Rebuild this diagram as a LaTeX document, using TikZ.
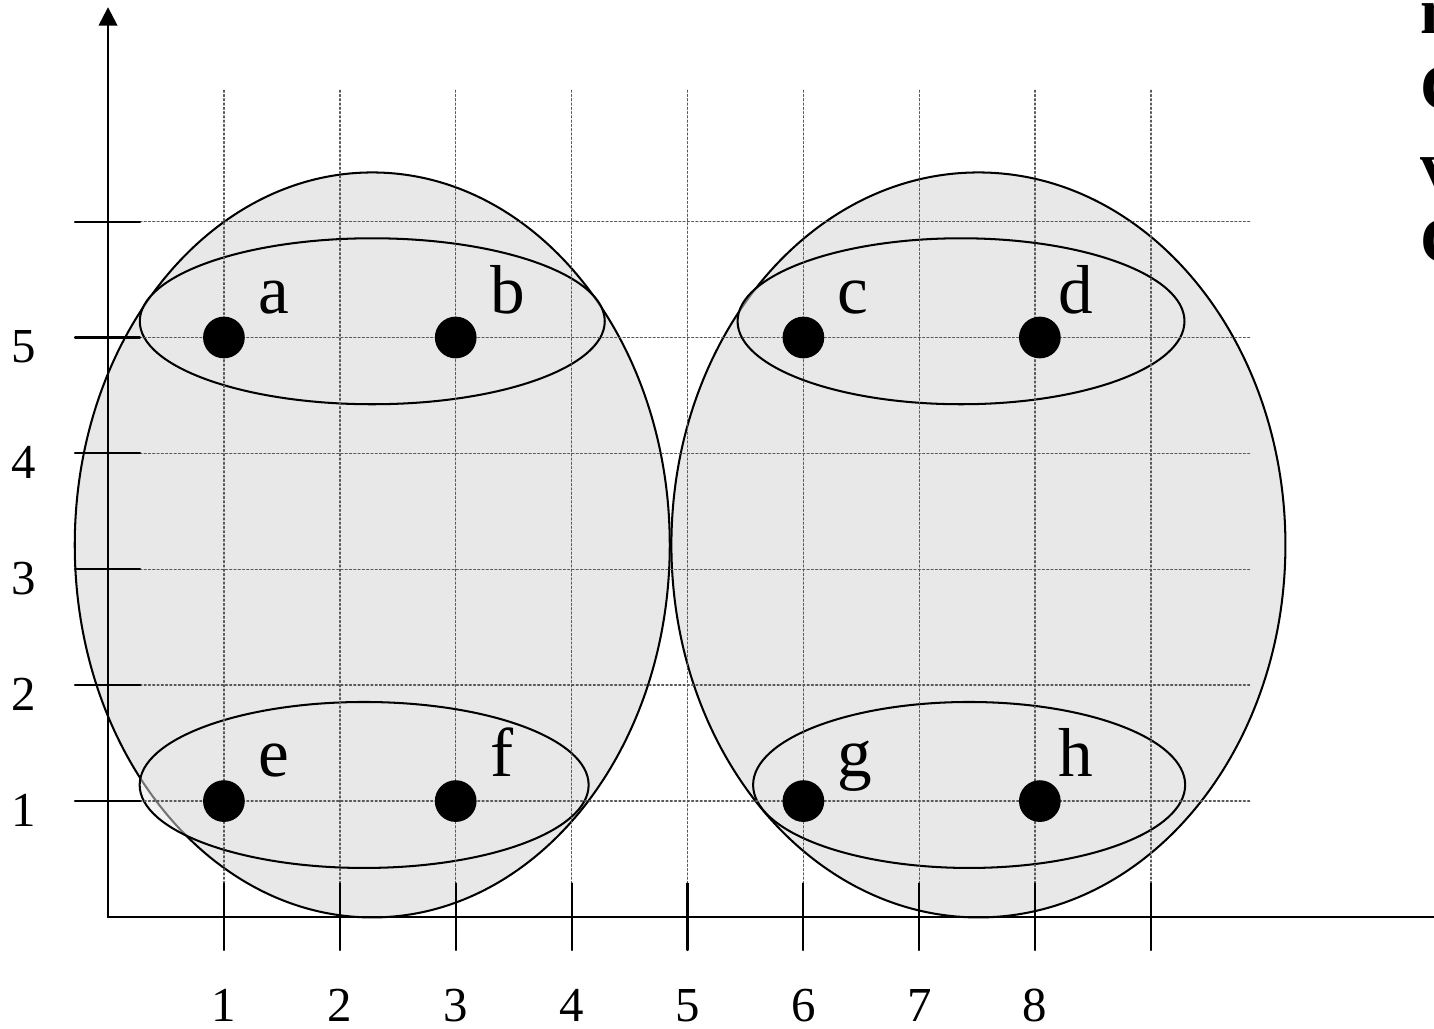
\documentclass[tikz,border=0pt]{standalone}
\usepackage{fontspec}
\setmainfont{Liberation Serif}
\usetikzlibrary{arrows.meta}
\definecolor{setgray}{HTML}{E8E8E8}

\begin{document}
\begin{tikzpicture}[line cap=round,line join=round,
    pt/.style={circle,fill=black,inner sep=0pt,minimum size=0.36cm},
    lbl/.style={anchor=base west,inner sep=0pt,font=\fontsize{17}{20}\selectfont},
    num/.style={anchor=base,inner sep=0pt,font=\fontsize{12}{14}\selectfont},
    side/.style={anchor=base west,inner sep=0pt,font=\fontsize{16}{19}\selectfont\bfseries},
    gridline/.style={line width=0.35pt,black!65,dash pattern=on 0.45pt off 0.6pt},
    axis/.style={line width=0.6pt,-{Triangle[length=4.5pt,width=4.5pt]}}]
  \useasboundingbox (-0.932,-0.966) rectangle (11.441,7.912);
  \coordinate (O) at (0,0);
  \coordinate (X) at (11.6,0);
  \coordinate (Y) at (0,7.85);
  % big sets
  \draw[line width=0.5pt,fill=setgray] (2.28,3.21) ellipse (2.567 and 3.214);
  \draw[line width=0.5pt,fill=setgray] (7.51,3.21) ellipse (2.649 and 3.214);
  % small sets
  \draw[line width=0.5pt,fill=setgray,fill opacity=0.5] (2.28,5.14) ellipse (2.006 and 0.716);
  \draw[line width=0.5pt,fill=setgray,fill opacity=0.5] (7.36,5.14) ellipse (1.928 and 0.716);
  \draw[line width=0.5pt,fill=setgray,fill opacity=0.5] (2.21,1.139) ellipse (1.937 and 0.716);
  \draw[line width=0.5pt,fill=setgray,fill opacity=0.5] (7.43,1.139) ellipse (1.864 and 0.716);
  % grid
  \foreach \x in {1,...,9}
    \draw[gridline] (\x,0.29) -- (\x,7.135);
  \foreach \y in {1,...,6}
    \draw[gridline] (0.276,\y) -- (9.85,\y);
  % axes and ticks
  \draw[axis] (O) -- (Y);
  \draw[axis] (O) -- (X);
  \foreach \x in {1,...,9}
    \draw[line width=0.5pt] (\x,0.29) -- (\x,-0.285);
  \foreach \y in {1,...,6}
    \draw[line width=0.5pt] (-0.285,\y) -- (0.276,\y);
  \foreach \x in {1,...,8}
    \node[num] (x\x) at (\x,-0.905) {\x};
  \foreach \y in {1,...,5}
    \node[num] (y\y) at (-0.725,\y-0.216) {\y};
  % points
  \foreach \n/\x/\y/\d in {a/1/5/0.29,b/3/5/0.29,c/6/5/0.29,d/8.04/5/0.15,
                           e/1/1/0.29,f/3/1/0.29,g/6/1/0.29,h/8.04/1/0.15} {
    \node[pt] (\n) at (\x,\y) {};
    \node[lbl] (l\n) at (\x+\d,\y+0.21) {\n};
  }
  % cut text at the right
  \node[side] (t1) at (11.32,7.62) {n};
  \node[side] (t2) at (11.32,6.97) {C};
  \node[side] (t3) at (11.32,6.29) {v};
  \node[side] (t4) at (11.32,5.643) {C};
\end{tikzpicture}
\end{document}
